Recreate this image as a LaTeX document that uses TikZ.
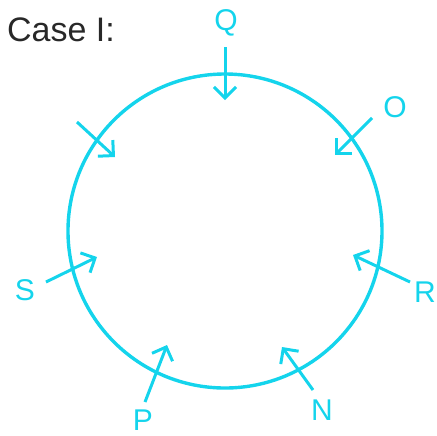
\documentclass[tikz,border=0pt]{standalone}
\usepackage{fontspec}
\setmainfont{Liberation Sans}
\usepackage{xcolor}
\usetikzlibrary{arrows.meta}
\definecolor{ringcyan}{RGB}{20,212,236}
\definecolor{titlegray}{RGB}{40,40,40}
\tikzset{
  ring/.style={draw=ringcyan, line width=1.7pt},
  inflow/.style={-{Straight Barb[length=5.5pt, width=11pt, line width=1.5pt]}, draw=ringcyan, line width=1.5pt},
  seat/.style={text=ringcyan, font=\fontsize{15}{17}\selectfont, inner sep=0pt},
}

\begin{document}
\begin{tikzpicture}[x=0.5pt, y=0.5pt]
  \useasboundingbox (-225,231) rectangle (212,-204);
  % the round table
  \draw[ring] (0,0) circle (157);
  \node[text=titlegray, font=\fontsize{17}{19}\selectfont, inner sep=0pt] (title) at (-164,201) {Case I:};
  % seats and where they face
  \node[seat] (Q) at (1,208) {Q};
  \node[seat] (O) at (170,124) {O};
  \node[seat] (S) at (-200,-59) {S};
  \node[seat] (R) at (200,-61) {R};
  \node[seat] (P) at (-82,-189) {P};
  \node[seat] (N) at (97,-179) {N};
  \coordinate (q0) at (0,184);    \coordinate (q1) at (0,131);
  \coordinate (o0) at (147,113);  \coordinate (o1) at (110,76);
  \coordinate (u0) at (-148,109); \coordinate (u1) at (-110,74);
  \coordinate (s0) at (-179,-51); \coordinate (s1) at (-128,-26);
  \coordinate (r0) at (185,-51);  \coordinate (r1) at (128,-24);
  \coordinate (p0) at (-80,-171); \coordinate (p1) at (-58,-114);
  \coordinate (n0) at (88,-159);  \coordinate (n1) at (57,-116);
  \draw[inflow] (q0) -- (q1);
  \draw[inflow] (o0) -- (o1);
  \draw[inflow] (u0) -- (u1);
  \draw[inflow] (s0) -- (s1);
  \draw[inflow] (r0) -- (r1);
  \draw[inflow] (p0) -- (p1);
  \draw[inflow] (n0) -- (n1);
\end{tikzpicture}
\end{document}
